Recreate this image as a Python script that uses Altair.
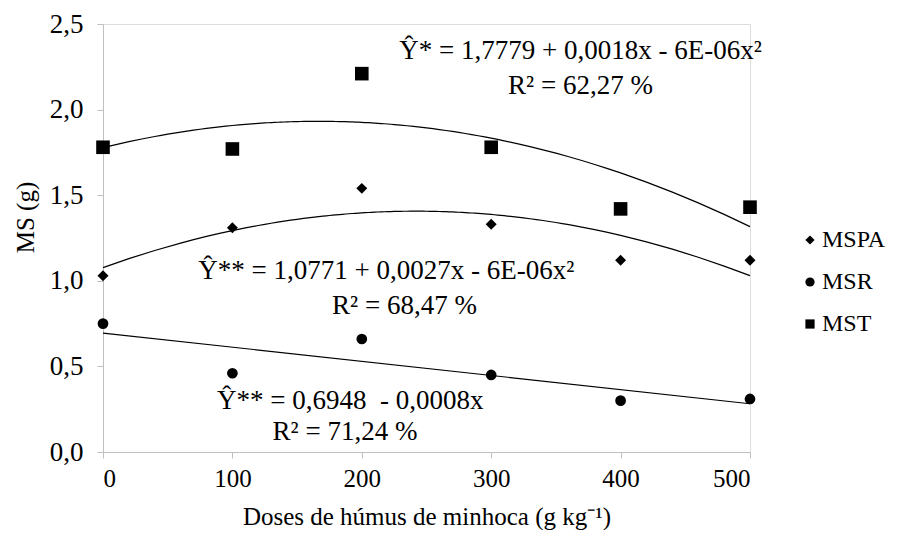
import altair as alt
import pandas as pd

doses = [0, 100, 200, 300, 400, 500]
mspa = [1.03, 1.31, 1.54, 1.33, 1.12, 1.12]
msr = [0.75, 0.46, 0.66, 0.45, 0.30, 0.31]
mst = [1.78, 1.77, 2.21, 1.78, 1.42, 1.43]
series_names = ["MSPA", "MSR", "MST"]
series_shapes = ["diamond", "circle", "square"]
series_sizes = [120, 115, 185]

# annotation texts and their anchor (in data units)
ann_text = [
    "Ŷ* = 1,7779 + 0,0018x - 6E-06x²",
    "R² = 62,27 %",
    "Ŷ** = 1,0771 + 0,0027x - 6E-06x²",
    "R² = 68,47 %",
    "Ŷ** = 0,6948\u00a0\u00a0- 0,0008x",
    "R² = 71,24 %",
]
ann_x = [369, 369, 219, 233, 191, 187]
ann_y = [2.34, 2.135, 1.055, 0.85, 0.30, 0.115]

rows = []
for name, vals in zip(series_names, [mspa, msr, mst]):
    for d, v in zip(doses, vals):
        rows.append({"dose": d, "ms": v, "serie": name})
df = pd.DataFrame(rows)
ann = pd.DataFrame({"t": ann_text, "x": ann_x, "y": ann_y})

FONT = "Times New Roman, Liberation Serif, serif"
xscale = alt.Scale(domain=[0, 500], nice=False, zero=True)
yscale = alt.Scale(domain=[0, 2.5], nice=False)
shape_scale = alt.Scale(domain=series_names, range=series_shapes)

base = alt.Chart(df)

xenc = alt.X("dose:Q", scale=xscale,
             axis=alt.Axis(title="Doses de húmus de minhoca (g kg⁻¹)", values=doses,
                           grid=False, domainColor="#bfbfbf", tickColor="#bfbfbf",
                           tickSize=6, labelPadding=8, titleY=72,
                           titleBaseline="alphabetic",
                           labelFontSize=25, titleFontSize=25, labelFont=FONT,
                           titleFont=FONT, titleFontWeight="normal", labelColor="black",
                           titleColor="black"))
yenc = alt.Y("ms:Q", scale=yscale,
             axis=alt.Axis(title="MS (g)", values=[0, 0.5, 1.0, 1.5, 2.0, 2.5],
                           labelExpr="replace(format(datum.value, '.1f'), '.', ',')",
                           grid=False, domainColor="#bfbfbf", tickColor="#bfbfbf",
                           tickSize=6, labelPadding=14,
                           labelFontSize=27, titleFontSize=25, labelFont=FONT,
                           titleFont=FONT, titleFontWeight="normal", labelColor="black",
                           titleColor="black", titleX=-78, titleY=193,
                           titleBaseline="middle"))

point_layers = []
for name, sz in zip(series_names, series_sizes):
    point_layers.append(
        base.transform_filter(alt.FieldEqualPredicate(field="serie", equal=name))
        .mark_point(filled=True, opacity=1, color="black", size=sz)
        .encode(
            x=xenc, y=yenc,
            shape=alt.Shape("serie:N", scale=shape_scale,
                            legend=alt.Legend(title=None, orient="none", legendX=695,
                                              legendY=204, labelFont=FONT,
                                              labelFontSize=24, labelColor="black",
                                              rowPadding=18, symbolFillColor="black",
                                              symbolStrokeColor="black", symbolSize=85,
                                              labelOffset=0)),
        )
    )

poly = base.transform_filter(
    alt.FieldOneOfPredicate(field="serie", oneOf=["MSPA", "MST"])
).transform_regression("dose", "ms", method="poly", order=2, groupby=["serie"],
                       extent=[0, 500]).mark_line(color="black", strokeWidth=1.2).encode(
    x=alt.X("dose:Q", scale=xscale), y=alt.Y("ms:Q", scale=yscale), detail="serie:N")

lin = base.transform_filter(
    alt.FieldEqualPredicate(field="serie", equal="MSR")
).transform_regression("dose", "ms", method="linear", extent=[0, 500]).mark_line(
    color="black", strokeWidth=1.2).encode(
    x=alt.X("dose:Q", scale=xscale), y=alt.Y("ms:Q", scale=yscale))

texts = alt.Chart(ann).mark_text(font=FONT, fontSize=27, color="black",
                                 align="center", baseline="middle").encode(
    x=alt.X("x:Q", scale=xscale), y=alt.Y("y:Q", scale=yscale), text="t:N")

chart = alt.layer(poly, lin, *point_layers, texts).properties(
    width=647, height=428,
    autosize=alt.AutoSizeParams(type="none"),
    padding={"left": 95, "top": 16, "right": 145, "bottom": 78},
).configure_view(stroke=None).configure(background="white")

chart.save("out.html", embed_options={"renderer": "svg", "actions": False})
